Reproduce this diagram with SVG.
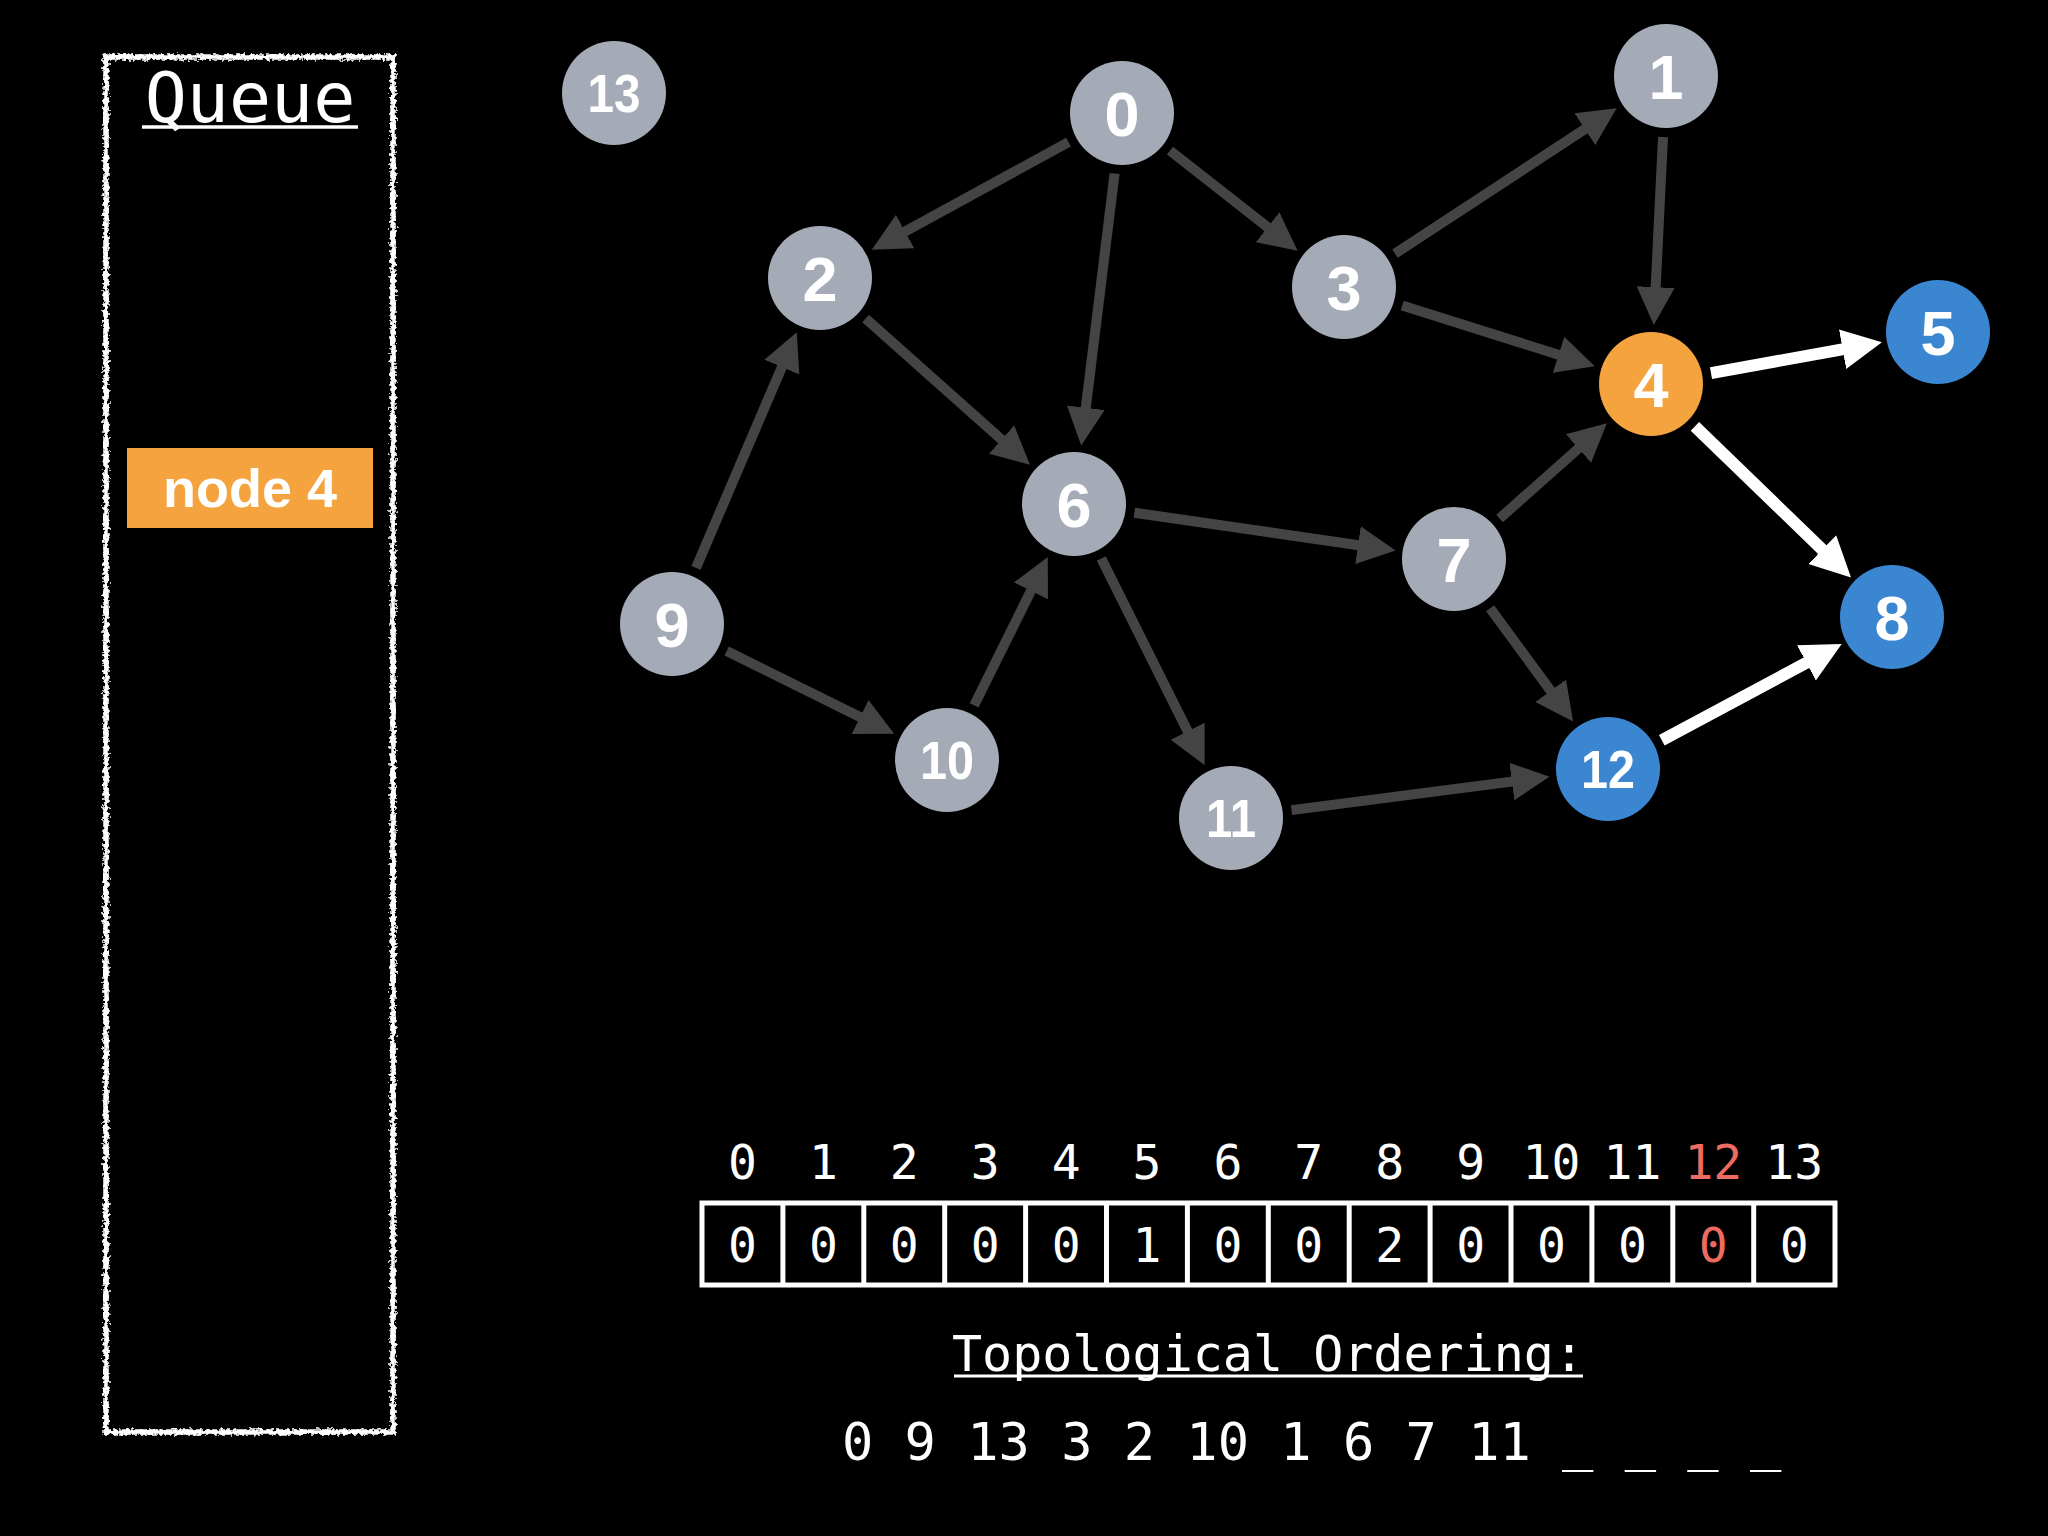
<svg xmlns="http://www.w3.org/2000/svg" width="2048" height="1536" viewBox="0 0 2048 1536">
<defs>
<style>
.node-gray{fill:#a4abb7}
.node-orange{fill:#f4a33f}
.node-blue{fill:#3b86d1}
.lbl{font-family:"Liberation Sans",Arial,sans-serif;font-weight:bold;fill:#ffffff;text-anchor:middle}
.l1{font-size:63px}
.l2{font-size:53px}
.edge{stroke:#444444;stroke-width:10;fill:none}
.edge-w{stroke:#ffffff;stroke-width:12;fill:none}
.mono{font-family:"DejaVu Sans Mono","Liberation Mono",monospace;fill:#ffffff}
.idx{font-size:48px;text-anchor:middle}
.red{fill:#ee6b61}
</style>
<marker id="ah" markerUnits="userSpaceOnUse" markerWidth="40" markerHeight="40" viewBox="0 -20 40 40" refX="18" refY="0" orient="auto">
<path d="M0,-19 L38,0 L0,19 Z" fill="#444444"/>
</marker>
<marker id="ahw" markerUnits="userSpaceOnUse" markerWidth="42" markerHeight="42" viewBox="0 -21 42 42" refX="18" refY="0" orient="auto">
<path d="M0,-20 L40,0 L0,20 Z" fill="#ffffff"/>
</marker>
<filter id="rough" x="-10%" y="-10%" width="120%" height="120%">
<feTurbulence type="fractalNoise" baseFrequency="0.3" numOctaves="2" seed="3" result="n"/>
<feDisplacementMap in="SourceGraphic" in2="n" scale="7" xChannelSelector="R" yChannelSelector="G"/>
</filter>
</defs>
<rect x="0" y="0" width="2048" height="1536" fill="#000000"/>

<g id="queue">
<rect x="106" y="57" width="287" height="1375" fill="none" stroke="#ffffff" stroke-width="5.5" filter="url(#rough)"/>
<text x="250" y="122" class="mono" font-size="70" text-anchor="middle">Queue</text>
<line x1="142" y1="127" x2="358" y2="127" stroke="#ffffff" stroke-width="3.5"/>
<g id="queue-item-node4">
<rect x="127" y="448" width="246" height="80" fill="#f4a33f"/>
<text x="250" y="507" font-family="Liberation Sans,Arial,sans-serif" font-weight="bold" font-size="54" fill="#ffffff" text-anchor="middle">node 4</text>
</g>
</g>

<g id="connectors">
<line class="edge" x1="1068.5" y1="142.2" x2="889.3" y2="240.1" marker-end="url(#ah)"/>
<line class="edge" x1="1114.6" y1="173.5" x2="1083.6" y2="425.6" marker-end="url(#ah)"/>
<line class="edge" x1="1170" y1="150.6" x2="1281.8" y2="238.3" marker-end="url(#ah)"/>
<line class="edge" x1="1395" y1="253.6" x2="1599.9" y2="119.3" marker-end="url(#ah)"/>
<line class="edge" x1="1663" y1="136.9" x2="1654.8" y2="305.1" marker-end="url(#ah)"/>
<line class="edge" x1="1402.2" y1="305.4" x2="1575.7" y2="360.2" marker-end="url(#ah)"/>
<line class="edge" x1="865.6" y1="318.5" x2="1015" y2="451.5" marker-end="url(#ah)"/>
<line class="edge" x1="696" y1="567.9" x2="788.9" y2="350.6" marker-end="url(#ah)"/>
<line class="edge" x1="726.7" y1="651" x2="876.2" y2="725" marker-end="url(#ah)"/>
<line class="edge" x1="974.1" y1="705.4" x2="1038.9" y2="574.8" marker-end="url(#ah)"/>
<line class="edge" x1="1134.4" y1="512.7" x2="1375.8" y2="547.7" marker-end="url(#ah)"/>
<line class="edge" x1="1101.3" y1="558.6" x2="1195.7" y2="747.3" marker-end="url(#ah)"/>
<line class="edge" x1="1499.6" y1="518.5" x2="1591.9" y2="436.5" marker-end="url(#ah)"/>
<line class="edge" x1="1490.1" y1="608.2" x2="1561.3" y2="705.3" marker-end="url(#ah)"/>
<line class="edge" x1="1291.5" y1="810.1" x2="1529.7" y2="779.2" marker-end="url(#ah)"/>
<line class="edge-w" x1="1711" y1="373.1" x2="1860.3" y2="346.1" marker-end="url(#ahw)"/>
<line class="edge-w" x1="1694.9" y1="426.4" x2="1835.2" y2="562.1" marker-end="url(#ahw)"/>
<line class="edge-w" x1="1661.8" y1="740.2" x2="1822.3" y2="654.3" marker-end="url(#ahw)"/>
</g>

<g id="node-0"><circle class="node-gray" cx="1122" cy="113" r="52"/><text class="lbl l1" x="1122" y="136">0</text></g>
<g id="node-1"><circle class="node-gray" cx="1666" cy="76" r="52"/><text class="lbl l1" x="1666" y="99">1</text></g>
<g id="node-2"><circle class="node-gray" cx="820" cy="278" r="52"/><text class="lbl l1" x="820" y="301">2</text></g>
<g id="node-3"><circle class="node-gray" cx="1344" cy="287" r="52"/><text class="lbl l1" x="1344" y="310">3</text></g>
<g id="node-4"><circle class="node-orange" cx="1651" cy="384" r="52"/><text class="lbl l1" x="1651" y="407">4</text></g>
<g id="node-5"><circle class="node-blue" cx="1938" cy="332" r="52"/><text class="lbl l1" x="1938" y="355">5</text></g>
<g id="node-6"><circle class="node-gray" cx="1074" cy="504" r="52"/><text class="lbl l1" x="1074" y="527">6</text></g>
<g id="node-7"><circle class="node-gray" cx="1454" cy="559" r="52"/><text class="lbl l1" x="1454" y="582">7</text></g>
<g id="node-8"><circle class="node-blue" cx="1892" cy="617" r="52"/><text class="lbl l1" x="1892" y="640">8</text></g>
<g id="node-9"><circle class="node-gray" cx="672" cy="624" r="52"/><text class="lbl l1" x="672" y="647">9</text></g>
<g id="node-10"><circle class="node-gray" cx="947" cy="760" r="52"/><text class="lbl l2" x="947" y="779" textLength="54" lengthAdjust="spacingAndGlyphs">10</text></g>
<g id="node-11"><circle class="node-gray" cx="1231" cy="818" r="52"/><text class="lbl l2" x="1231" y="837" textLength="50" lengthAdjust="spacingAndGlyphs">11</text></g>
<g id="node-12"><circle class="node-blue" cx="1608" cy="769" r="52"/><text class="lbl l2" x="1608" y="788" textLength="54" lengthAdjust="spacingAndGlyphs">12</text></g>
<g id="node-13"><circle class="node-gray" cx="614" cy="93" r="52"/><text class="lbl l2" x="614" y="112" textLength="53" lengthAdjust="spacingAndGlyphs">13</text></g>

<g id="indegree-array">
<g class="mono idx">
<text x="742.5" y="1179">0</text>
<text x="823.4" y="1179">1</text>
<text x="904.3" y="1179">2</text>
<text x="985.2" y="1179">3</text>
<text x="1066.1" y="1179">4</text>
<text x="1147" y="1179">5</text>
<text x="1227.9" y="1179">6</text>
<text x="1308.8" y="1179">7</text>
<text x="1389.7" y="1179">8</text>
<text x="1470.6" y="1179">9</text>
<text x="1551.5" y="1179">10</text>
<text x="1632.4" y="1179">11</text>
<text x="1713.3" y="1179" class="red">12</text>
<text x="1794.2" y="1179">13</text>
</g>
<rect x="702" y="1203" width="1133" height="82" fill="none" stroke="#ffffff" stroke-width="5"/>
<g stroke="#ffffff" stroke-width="5">
<line x1="782.9" y1="1203" x2="782.9" y2="1285"/>
<line x1="863.8" y1="1203" x2="863.8" y2="1285"/>
<line x1="944.7" y1="1203" x2="944.7" y2="1285"/>
<line x1="1025.6" y1="1203" x2="1025.6" y2="1285"/>
<line x1="1106.5" y1="1203" x2="1106.5" y2="1285"/>
<line x1="1187.4" y1="1203" x2="1187.4" y2="1285"/>
<line x1="1268.3" y1="1203" x2="1268.3" y2="1285"/>
<line x1="1349.2" y1="1203" x2="1349.2" y2="1285"/>
<line x1="1430.1" y1="1203" x2="1430.1" y2="1285"/>
<line x1="1511" y1="1203" x2="1511" y2="1285"/>
<line x1="1591.9" y1="1203" x2="1591.9" y2="1285"/>
<line x1="1672.8" y1="1203" x2="1672.8" y2="1285"/>
<line x1="1753.7" y1="1203" x2="1753.7" y2="1285"/>
</g>
<g class="mono idx">
<text x="742.5" y="1262">0</text>
<text x="823.4" y="1262">0</text>
<text x="904.3" y="1262">0</text>
<text x="985.2" y="1262">0</text>
<text x="1066.1" y="1262">0</text>
<text x="1147" y="1262">1</text>
<text x="1227.9" y="1262">0</text>
<text x="1308.8" y="1262">0</text>
<text x="1389.7" y="1262">2</text>
<text x="1470.6" y="1262">0</text>
<text x="1551.5" y="1262">0</text>
<text x="1632.4" y="1262">0</text>
<text x="1713.3" y="1262" class="red">0</text>
<text x="1794.2" y="1262">0</text>
</g>
</g>

<g id="ordering">
<text x="1268" y="1371" class="mono" font-size="50" text-anchor="middle" xml:space="preserve">Topological Ordering:</text>
<line x1="954" y1="1376" x2="1583" y2="1376" stroke="#ffffff" stroke-width="3"/>
<text x="842" y="1460" class="mono" font-size="52" xml:space="preserve">0 9 13 3 2 10 1 6 7 11 _ _ _ _</text>
</g>
</svg>
